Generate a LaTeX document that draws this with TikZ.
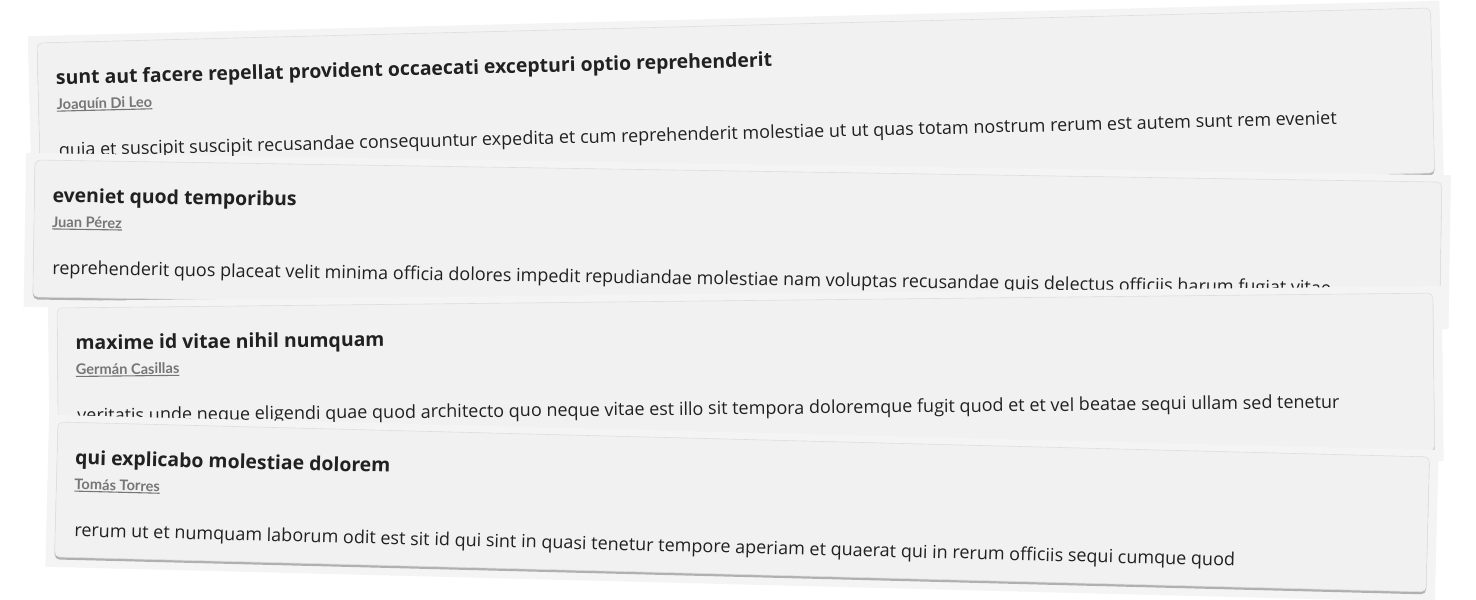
\documentclass[tikz,border=0pt]{standalone}
\usepackage{fontspec}
\setmainfont{Open Sans}
\newfontfamily\latofont{Lato}
\usetikzlibrary{shadows}

\definecolor{wrapgray}{HTML}{F4F4F4}
\definecolor{cardgray}{HTML}{F1F1F1}
\definecolor{inkgray}{HTML}{212121}
\definecolor{authorgray}{HTML}{767676}

\newcommand\ulname[1]{\setbox0\hbox{#1}\rlap{\rule[-2.2pt]{\wd0}{1.1pt}}\box0}

% one post card: name, x, y, angle, width, height, title, author, body
\newcommand\postcard[9]{%
  \begin{scope}[shift={(#2,#3)}, rotate=#4]
    \fill[wrapper] (-9,7) rectangle (#5+9,-#6-10);
    \path[card] (0,0) rectangle (#5,-#6);
    \node[posttitle, rotate=#4] (#1-title) at (18,-42) {#7};
    \node[postauthor, rotate=#4] (#1-author) at (18,-67) {\ulname{#8}};
    \node[postbody, rotate=#4] (#1-body) at (19,-114) {#9};
  \end{scope}}

\tikzset{
  wrapper/.style={fill=wrapgray},
  card/.style={fill=cardgray, draw=black!13, line width=.6pt, rounded corners=5pt,
    drop shadow={shadow xshift=0pt, shadow yshift=-2.5pt, opacity=.4, fill=black!70}},
  posttitle/.style={anchor=base west, inner sep=0pt, text=inkgray,
    font=\bfseries\fontsize{19.4}{22}\selectfont},
  postauthor/.style={anchor=base west, inner sep=0pt, text=authorgray,
    font=\latofont\bfseries\fontsize{14.6}{17}\selectfont},
  postbody/.style={anchor=base west, inner sep=0pt, text=inkgray,
    font=\fontsize{18}{21}\selectfont},
}

\begin{document}
\begin{tikzpicture}[x=1pt, y=1pt]
  \useasboundingbox[fill=white] (0,0) rectangle (1476,600);
  \postcard{c1}{37}{557}{1.44}{1394}{165}
    {sunt aut facere repellat provident occaecati excepturi optio reprehenderit}
    {Joaquín Di Leo}
    {quia et suscipit suscipit recusandae consequuntur expedita et cum reprehenderit molestiae ut ut quas totam nostrum rerum est autem sunt rem eveniet}
  \postcard{c2}{35}{440}{-0.9}{1407}{137}
    {eveniet quod temporibus}
    {Juan Pérez}
    {reprehenderit quos placeat velit minima officia dolores impedit repudiandae molestiae nam voluptas recusandae quis delectus officiis harum fugiat vitae}
  \postcard{c3}{57}{292}{0.62}{1376}{158}
    {maxime id vitae nihil numquam}
    {Germán Casillas}
    {veritatis unde neque eligendi quae quod architecto quo neque vitae est illo sit tempora doloremque fugit quod et et vel beatae sequi ullam sed tenetur}
  \postcard{c4}{58}{178}{-1.46}{1372}{135}
    {qui explicabo molestiae dolorem}
    {Tomás Torres}
    {rerum ut et numquam laborum odit est sit id qui sint in quasi tenetur tempore aperiam et quaerat qui in rerum officiis sequi cumque quod}
\end{tikzpicture}
\end{document}
